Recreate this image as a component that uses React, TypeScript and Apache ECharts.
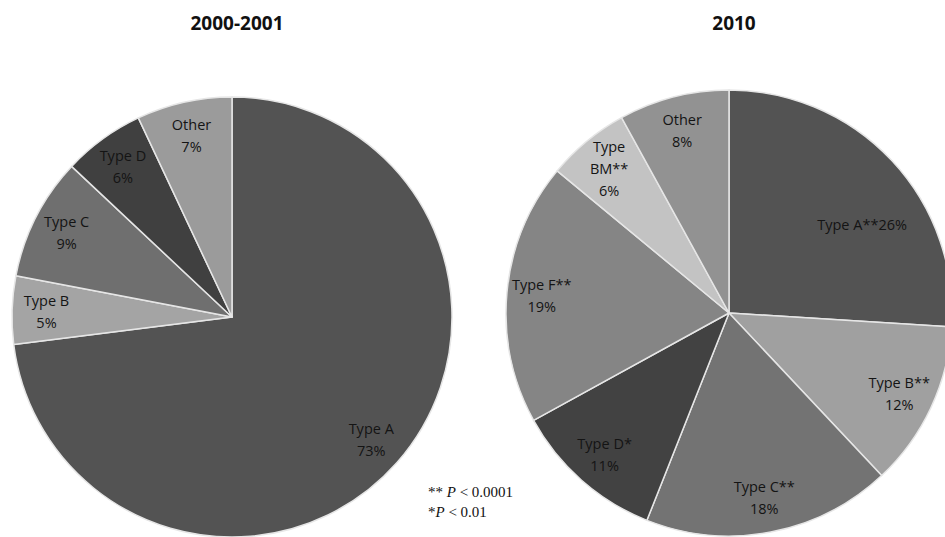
import React, { useEffect, useRef } from "react";
import * as echarts from "echarts";

const leftTitle = "2000-2001";
const rightTitle = "2010";

const leftCategories = ["Type A", "Type B", "Type C", "Type D", "Other"];
const leftValues = [73, 5, 9, 6, 7];
const leftColors = ["#535353", "#a4a4a4", "#6f6f6f", "#404040", "#9b9b9b"];

const rightCategories = ["Type A**", "Type B**", "Type C**", "Type D*", "Type F**", "Type BM**", "Other"];
const rightValues = [26, 12, 18, 11, 19, 6, 8];
const rightColors = ["#535353", "#a0a0a0", "#737373", "#424242", "#858585", "#c3c3c3", "#929292"];

const footnoteLines = ["** P < 0.0001", "*P < 0.01"];

const LABEL_FONT = "'Open Sans', sans-serif";

function pieData(names: string[], values: number[], colors: string[] | null) {
  return names.map((n, i) => ({
    name: n,
    value: values[i],
    itemStyle: colors ? { color: colors[i] } : { color: "rgba(0,0,0,0)", borderWidth: 0 },
  }));
}

export default function App() {
  const ref = useRef<HTMLDivElement>(null);
  useEffect(() => {
    if (!ref.current) return;
    const chart = echarts.init(ref.current, undefined, { renderer: "svg" });
    const leftC = [232, 317];
    const leftR = 220;
    const rightC = [729, 313];
    const rightR = 223;
    const labelStyle = {
      show: true,
      position: "inside",
      color: "#141414",
      fontFamily: LABEL_FONT,
      fontSize: 14.5,
      lineHeight: 22,
      align: "center",
    };
    const fmtLeft = (p: any) => `${p.name}\n${p.value}%`;
    const fmtRight = (p: any) => {
      if (p.dataIndex === 0) return `${p.name}${p.value}%`;
      const n = p.name === "Type BM**" ? "Type\nBM**" : p.name;
      return `${n}\n${p.value}%`;
    };
    const serif = "'Liberation Serif', serif";
    const fnRich = {
      i: { fontFamily: serif, fontStyle: "italic", fontSize: 15, fill: "#111" },
      n: { fontFamily: serif, fontSize: 15, fill: "#111" },
    };
    const fnText = footnoteLines
      .map((l) => l.replace(/^(\**)\s?P(.*)$/, (_m, s, rest) => `{n|${s}${s.length > 1 ? " " : ""}}{i|P}{n|${rest}}`))
      .join("\n");
    chart.setOption({
      animation: false,
      backgroundColor: "#ffffff",
      title: [
        {
          text: leftTitle,
          left: 232,
          top: 8,
          textAlign: "center",
          textStyle: { fontFamily: "'Open Sans', sans-serif", fontWeight: "bold", fontSize: 19, color: "#111" },
        },
        {
          text: rightTitle,
          left: 729,
          top: 8,
          textAlign: "center",
          textStyle: { fontFamily: "'Open Sans', sans-serif", fontWeight: "bold", fontSize: 19, color: "#111" },
        },
      ],
      graphic: [
        {
          type: "text",
          left: 428,
          top: 482,
          style: {
            text: fnText,
            rich: fnRich,
            lineHeight: 20,
          },
        },
      ],
      series: [
        {
          type: "pie",
          center: leftC,
          radius: [0, leftR],
          startAngle: 90,
          clockwise: true,
          silent: true,
          label: { show: false },
          labelLine: { show: false },
          itemStyle: { borderColor: "#e6e6e6", borderWidth: 1.5 },
          data: pieData(leftCategories, leftValues, leftColors),
        },
        {
          type: "pie",
          center: leftC,
          radius: [leftR * 0.66, leftR],
          startAngle: 90,
          clockwise: true,
          silent: true,
          z: 5,
          label: { ...labelStyle, formatter: fmtLeft },
          labelLine: { show: false },
          data: pieData(leftCategories, leftValues, null),
        },
        {
          type: "pie",
          center: rightC,
          radius: [0, rightR],
          startAngle: 90,
          clockwise: true,
          silent: true,
          label: { show: false },
          labelLine: { show: false },
          itemStyle: { borderColor: "#e6e6e6", borderWidth: 1.5 },
          data: pieData(rightCategories, rightValues, rightColors),
        },
        {
          type: "pie",
          center: rightC,
          radius: [rightR * 0.66, rightR],
          startAngle: 90,
          clockwise: true,
          silent: true,
          z: 5,
          label: { ...labelStyle, formatter: fmtRight },
          labelLine: { show: false },
          labelLayout: (p: any) => (p.dataIndex === 0 ? { dx: -4, dy: 40 } : {}),
          data: pieData(rightCategories, rightValues, null),
        },
      ],
    });
    return () => chart.dispose();
  }, []);
  return (
    <div
      ref={ref}
      style={{ position: "fixed", left: 0, top: 0, width: 945, height: 537, background: "#fff" }}
    />
  );
}
